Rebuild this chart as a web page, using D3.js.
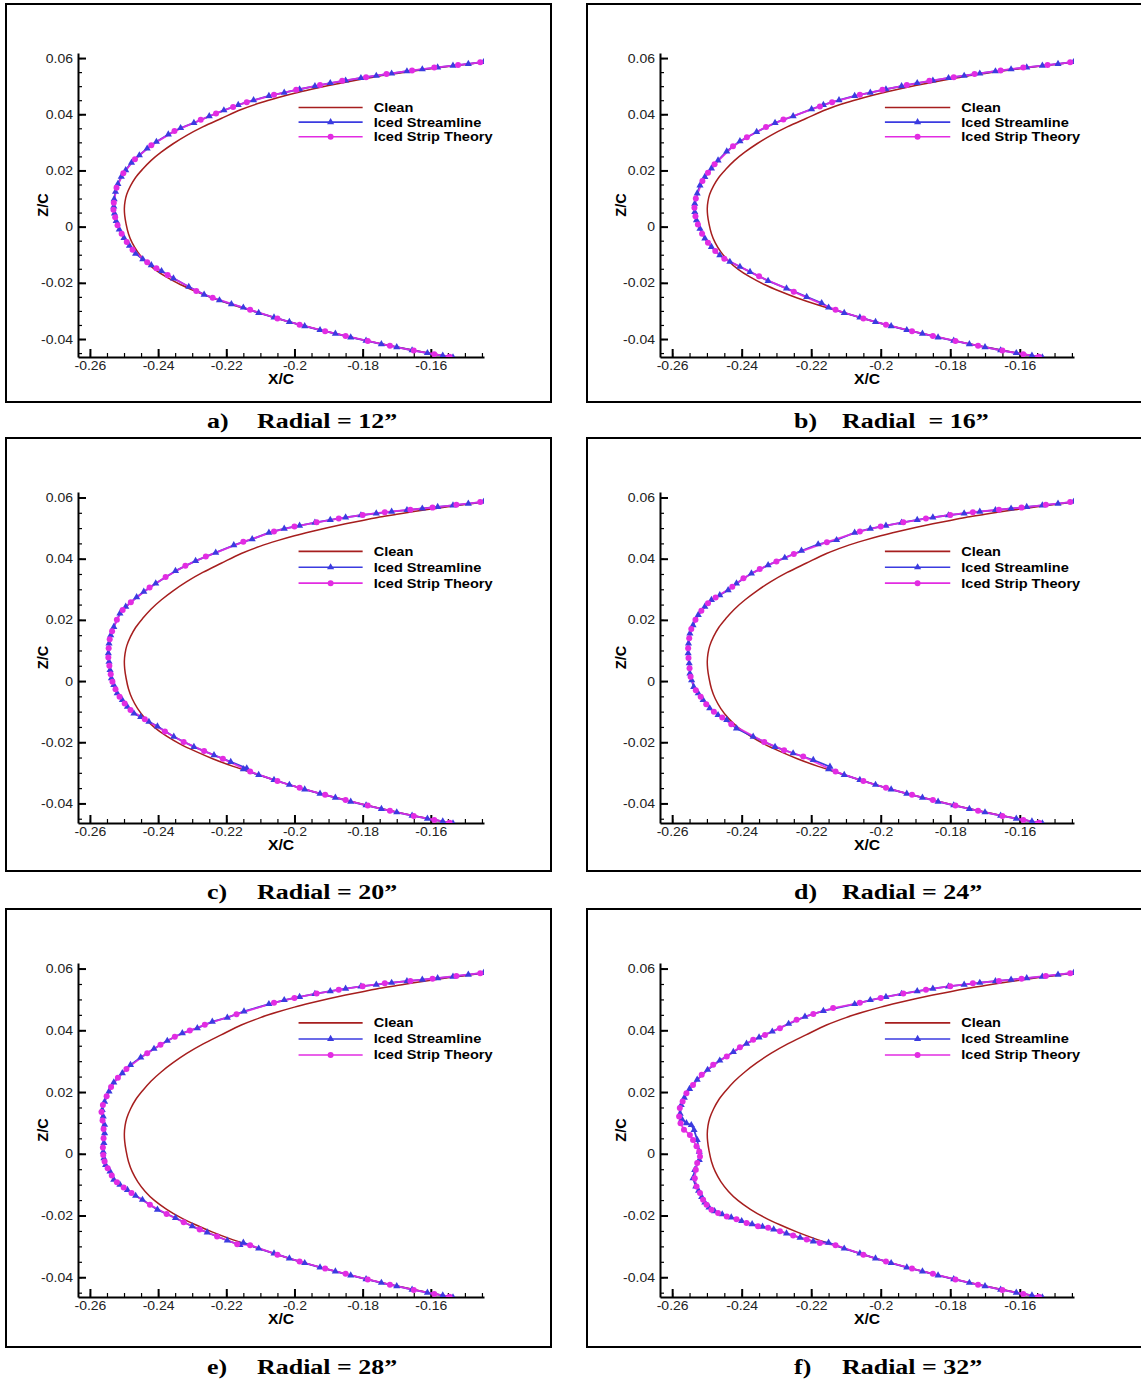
<!DOCTYPE html>
<html><head><meta charset="utf-8">
<script src="https://cdn.jsdelivr.net/npm/d3@7"></script>
<style>body{margin:0;background:#fff}svg{display:block}</style>
</head><body>
<script>
// ---------------- DATA ----------------
const xTicks = [-0.26,-0.24,-0.22,-0.2,-0.18,-0.16];
const xTickLabels = ["-0.26","-0.24","-0.22","-0.2","-0.18","-0.16"];
const zTicks = [-0.04,-0.02,0,0.02,0.04,0.06];
const zTickLabels = ["-0.04","-0.02","0","0.02","0.04","0.06"];
const seriesNames = ["Clean","Iced Streamline","Iced Strip Theory"];
const panelLetters = ["a)","b)","c)","d)","e)","f)"];
const radialLabels = ["Radial = 12\u201D","Radial  = 16\u201D","Radial = 20\u201D","Radial = 24\u201D","Radial = 28\u201D","Radial = 32\u201D"];

const clean = [[-0.1443,0.0586],[-0.1500,0.0577],[-0.1550,0.0570],[-0.1600,0.0562],[-0.1650,0.0554],[-0.1700,0.0545],[-0.1750,0.0536],[-0.1800,0.0525],[-0.1850,0.0514],[-0.1900,0.0502],[-0.1950,0.0489],[-0.2000,0.0475],[-0.2050,0.0459],[-0.2100,0.0441],[-0.2156,0.0417],[-0.2215,0.0385],[-0.2269,0.0355],[-0.2316,0.0325],[-0.2356,0.0295],[-0.2391,0.0265],[-0.2421,0.0235],[-0.2445,0.0205],[-0.2466,0.0175],[-0.2481,0.0145],[-0.2492,0.0115],[-0.2497,0.0090],[-0.2499,0.0065],[-0.2498,0.0040],[-0.2494,0.0010],[-0.2487,-0.0025],[-0.2476,-0.0058],[-0.2460,-0.0090],[-0.2438,-0.0122],[-0.2410,-0.0152],[-0.2375,-0.0180],[-0.2335,-0.0206],[-0.2290,-0.0230],[-0.2240,-0.0254],[-0.2180,-0.0279],[-0.2117,-0.0302],[-0.2050,-0.0327],[-0.2000,-0.0344],[-0.1950,-0.0360],[-0.1900,-0.0375],[-0.1850,-0.0389],[-0.1800,-0.0403],[-0.1750,-0.0416],[-0.1700,-0.0428],[-0.1650,-0.0440],[-0.1600,-0.0451],[-0.1550,-0.0462],[-0.1535,-0.0465]];

// shared downstream parts of the iced contours
const streamUpperTailAB = [[-0.1445,0.0586],[-0.1490,0.0579],[-0.1535,0.0573],[-0.1580,0.0567],[-0.1625,0.0560],[-0.1670,0.0553],[-0.1715,0.0545],[-0.1760,0.0537],[-0.1805,0.0529],[-0.1850,0.0520],[-0.1895,0.0511],[-0.1940,0.0500],[-0.1985,0.0489],[-0.2030,0.0477],[-0.2075,0.0465],[-0.2120,0.0450],[-0.2165,0.0433]];
const stripUpperTailAB = [[-0.1455,0.0585],[-0.1520,0.0575],[-0.1590,0.0566],[-0.1655,0.0556],[-0.1730,0.0543],[-0.1790,0.0532],[-0.1860,0.0519],[-0.1925,0.0504],[-0.1995,0.0487],[-0.2060,0.0469],[-0.2140,0.0443]];
const streamUpperTailCF = [[-0.1445,0.0586],[-0.1490,0.0580],[-0.1535,0.0574],[-0.1580,0.0569],[-0.1625,0.0564],[-0.1670,0.0559],[-0.1715,0.0554],[-0.1760,0.0548],[-0.1805,0.0542],[-0.1850,0.0535],[-0.1895,0.0527],[-0.1940,0.0518],[-0.1985,0.0508],[-0.2030,0.0498],[-0.2075,0.0485]];
const stripUpperTailCF = [[-0.1455,0.0585],[-0.1525,0.0576],[-0.1595,0.0567],[-0.1660,0.0560],[-0.1735,0.0552],[-0.1800,0.0543],[-0.1870,0.0531],[-0.1935,0.0519],[-0.2000,0.0505],[-0.2060,0.0489]];
const streamLowerTail = [[-0.2150,-0.0288],[-0.2105,-0.0307],[-0.2060,-0.0323],[-0.2015,-0.0339],[-0.1970,-0.0354],[-0.1925,-0.0368],[-0.1880,-0.0381],[-0.1835,-0.0394],[-0.1790,-0.0406],[-0.1745,-0.0418],[-0.1700,-0.0429],[-0.1655,-0.0440],[-0.1610,-0.0450],[-0.1565,-0.0459],[-0.1535,-0.0465]];
const stripLowerTail = [[-0.2130,-0.0296],[-0.2050,-0.0327],[-0.1985,-0.0349],[-0.1910,-0.0372],[-0.1850,-0.0389],[-0.1785,-0.0407],[-0.1720,-0.0424],[-0.1650,-0.0441],[-0.1590,-0.0454],[-0.1545,-0.0463]];

// leading-edge parts, per radial station
const aStreamLE = [[-0.2207,0.0414],[-0.2250,0.0393],[-0.2295,0.0369],[-0.2334,0.0351],[-0.2370,0.0328],[-0.2405,0.0302],[-0.2432,0.0278],[-0.2455,0.0254],[-0.2478,0.0228],[-0.2495,0.0201],[-0.2508,0.0178],[-0.2518,0.0152],[-0.2525,0.0124],[-0.2529,0.0098],[-0.2530,0.0072],[-0.2528,0.0047],[-0.2523,0.0020],[-0.2514,-0.0010],[-0.2500,-0.0040],[-0.2484,-0.0068],[-0.2466,-0.0096],[-0.2445,-0.0116],[-0.2420,-0.0137],[-0.2390,-0.0158],[-0.2355,-0.0184],[-0.2310,-0.0214],[-0.2265,-0.0242],[-0.2220,-0.0262],[-0.2185,-0.0276]];
const aStripLE = [[-0.2180,0.0426],[-0.2230,0.0403],[-0.2275,0.0380],[-0.2352,0.0340],[-0.2420,0.0290],[-0.2468,0.0240],[-0.2502,0.0190],[-0.2522,0.0138],[-0.2530,0.0085],[-0.2531,0.0060],[-0.2526,0.0033],[-0.2519,0.0005],[-0.2507,-0.0025],[-0.2492,-0.0055],[-0.2475,-0.0082],[-0.2432,-0.0127],[-0.2405,-0.0148],[-0.2372,-0.0172],[-0.2288,-0.0229],[-0.2240,-0.0253]];
const bStreamLE = [[-0.2199,0.0418],[-0.2252,0.0393],[-0.2304,0.0369],[-0.2357,0.0337],[-0.2405,0.0304],[-0.2443,0.0268],[-0.2468,0.0236],[-0.2487,0.0207],[-0.2506,0.0177],[-0.2520,0.0147],[-0.2528,0.0118],[-0.2535,0.0082],[-0.2535,0.0052],[-0.2530,0.0023],[-0.2520,-0.0007],[-0.2506,-0.0042],[-0.2487,-0.0072],[-0.2463,-0.0102],[-0.2434,-0.0125],[-0.2405,-0.0143],[-0.2376,-0.0161],[-0.2324,-0.0193],[-0.2271,-0.0220],[-0.2213,-0.0250],[-0.2170,-0.0272]];
const bStripLE = [[-0.2175,0.0428],[-0.2280,0.0381],[-0.2330,0.0355],[-0.2385,0.0318],[-0.2425,0.0286],[-0.2478,0.0222],[-0.2497,0.0192],[-0.2513,0.0162],[-0.2532,0.0100],[-0.2536,0.0067],[-0.2533,0.0037],[-0.2526,0.0008],[-0.2514,-0.0025],[-0.2497,-0.0057],[-0.2476,-0.0087],[-0.2450,-0.0114],[-0.2350,-0.0177],[-0.2250,-0.0232]];
const cStreamLE = [[-0.2124,0.0464],[-0.2178,0.0444],[-0.2231,0.0420],[-0.2290,0.0393],[-0.2349,0.0360],[-0.2407,0.0319],[-0.2442,0.0292],[-0.2463,0.0274],[-0.2495,0.0243],[-0.2512,0.0221],[-0.2530,0.0177],[-0.2539,0.0150],[-0.2544,0.0123],[-0.2546,0.0091],[-0.2544,0.0063],[-0.2541,0.0036],[-0.2537,0.0009],[-0.2530,-0.0013],[-0.2520,-0.0040],[-0.2505,-0.0062],[-0.2490,-0.0084],[-0.2471,-0.0106],[-0.2451,-0.0117],[-0.2427,-0.0133],[-0.2402,-0.0148],[-0.2354,-0.0182],[-0.2295,-0.0215],[-0.2236,-0.0242],[-0.2187,-0.0264],[-0.2140,-0.0285]];
const cStripLE = [[-0.2150,0.0455],[-0.2260,0.0407],[-0.2320,0.0377],[-0.2378,0.0340],[-0.2425,0.0306],[-0.2480,0.0258],[-0.2504,0.0232],[-0.2521,0.0200],[-0.2535,0.0163],[-0.2542,0.0137],[-0.2545,0.0107],[-0.2546,0.0077],[-0.2543,0.0050],[-0.2539,0.0022],[-0.2534,-0.0002],[-0.2525,-0.0027],[-0.2513,-0.0051],[-0.2498,-0.0073],[-0.2481,-0.0095],[-0.2439,-0.0125],[-0.2380,-0.0165],[-0.2325,-0.0199],[-0.2265,-0.0229],[-0.2210,-0.0254]];
const dStreamLE = [[-0.2127,0.0461],[-0.2180,0.0447],[-0.2228,0.0426],[-0.2276,0.0403],[-0.2324,0.0379],[-0.2372,0.0352],[-0.2415,0.0319],[-0.2439,0.0297],[-0.2463,0.0281],[-0.2487,0.0265],[-0.2506,0.0243],[-0.2525,0.0216],[-0.2540,0.0183],[-0.2549,0.0156],[-0.2553,0.0123],[-0.2554,0.0091],[-0.2551,0.0058],[-0.2549,0.0025],[-0.2544,0.0003],[-0.2538,-0.0019],[-0.2525,-0.0040],[-0.2511,-0.0062],[-0.2492,-0.0089],[-0.2468,-0.0111],[-0.2443,-0.0127],[-0.2415,-0.0155],[-0.2367,-0.0182],[-0.2304,-0.0215],[-0.2252,-0.0236],[-0.2194,-0.0258],[-0.2146,-0.0280]];
const dStripLE = [[-0.2155,0.0454],[-0.2250,0.0415],[-0.2300,0.0391],[-0.2348,0.0366],[-0.2395,0.0336],[-0.2427,0.0308],[-0.2475,0.0273],[-0.2497,0.0254],[-0.2516,0.0230],[-0.2533,0.0200],[-0.2545,0.0170],[-0.2551,0.0140],[-0.2554,0.0107],[-0.2553,0.0075],[-0.2550,0.0042],[-0.2547,0.0014],[-0.2532,-0.0030],[-0.2518,-0.0051],[-0.2502,-0.0076],[-0.2480,-0.0100],[-0.2456,-0.0119],[-0.2430,-0.0141],[-0.2335,-0.0199],[-0.2278,-0.0226],[-0.2223,-0.0247]];
const eStreamLE = [[-0.2148,0.0461],[-0.2197,0.0441],[-0.2241,0.0428],[-0.2285,0.0407],[-0.2329,0.0391],[-0.2373,0.0366],[-0.2412,0.0340],[-0.2451,0.0312],[-0.2481,0.0288],[-0.2505,0.0261],[-0.2530,0.0231],[-0.2544,0.0202],[-0.2557,0.0169],[-0.2564,0.0142],[-0.2561,0.0121],[-0.2557,0.0094],[-0.2557,0.0067],[-0.2559,0.0035],[-0.2561,0.0007],[-0.2559,-0.0014],[-0.2554,-0.0036],[-0.2541,-0.0057],[-0.2530,-0.0084],[-0.2512,-0.0100],[-0.2490,-0.0117],[-0.2466,-0.0136],[-0.2446,-0.0149],[-0.2402,-0.0181],[-0.2349,-0.0208],[-0.2300,-0.0235],[-0.2256,-0.0255],[-0.2197,-0.0281],[-0.2160,-0.0295]];
const eStripLE = [[-0.2170,0.0452],[-0.2263,0.0418],[-0.2307,0.0399],[-0.2351,0.0379],[-0.2393,0.0353],[-0.2432,0.0326],[-0.2493,0.0275],[-0.2518,0.0246],[-0.2538,0.0216],[-0.2551,0.0186],[-0.2562,0.0158],[-0.2566,0.0135],[-0.2563,0.0108],[-0.2560,0.0080],[-0.2560,0.0050],[-0.2562,0.0020],[-0.2561,-0.0004],[-0.2557,-0.0025],[-0.2548,-0.0047],[-0.2536,-0.0070],[-0.2521,-0.0092],[-0.2501,-0.0109],[-0.2478,-0.0127],[-0.2424,-0.0165],[-0.2375,-0.0195],[-0.2325,-0.0222],[-0.2278,-0.0245],[-0.2227,-0.0268],[-0.2168,-0.0293]];
const fStreamLE = [[-0.2165,0.0463],[-0.2218,0.0444],[-0.2265,0.0421],[-0.2312,0.0396],[-0.2350,0.0377],[-0.2386,0.0357],[-0.2424,0.0330],[-0.2463,0.0302],[-0.2498,0.0272],[-0.2528,0.0240],[-0.2550,0.0210],[-0.2565,0.0182],[-0.2574,0.0158],[-0.2577,0.0130],[-0.2572,0.0112],[-0.2559,0.0099],[-0.2545,0.0093],[-0.2537,0.0077],[-0.2528,0.0045],[-0.2522,0.0007],[-0.2522,-0.0020],[-0.2535,-0.0052],[-0.2540,-0.0079],[-0.2532,-0.0106],[-0.2524,-0.0120],[-0.2515,-0.0140],[-0.2506,-0.0158],[-0.2494,-0.0174],[-0.2478,-0.0186],[-0.2456,-0.0196],[-0.2430,-0.0206],[-0.2400,-0.0218],[-0.2370,-0.0228],[-0.2340,-0.0236],[-0.2308,-0.0245],[-0.2271,-0.0258],[-0.2232,-0.0272],[-0.2194,-0.0284]];
const fStripLE = [[-0.2137,0.0472],[-0.2194,0.0453],[-0.2242,0.0434],[-0.2290,0.0407],[-0.2333,0.0385],[-0.2367,0.0369],[-0.2405,0.0345],[-0.2443,0.0315],[-0.2482,0.0288],[-0.2515,0.0256],[-0.2540,0.0223],[-0.2559,0.0196],[-0.2570,0.0169],[-0.2578,0.0148],[-0.2580,0.0121],[-0.2576,0.0099],[-0.2566,0.0078],[-0.2549,0.0061],[-0.2540,0.0045],[-0.2530,0.0024],[-0.2522,0.0007],[-0.2520,-0.0009],[-0.2528,-0.0030],[-0.2532,-0.0052],[-0.2535,-0.0079],[-0.2530,-0.0106],[-0.2520,-0.0127],[-0.2511,-0.0149],[-0.2501,-0.0165],[-0.2487,-0.0181],[-0.2468,-0.0192],[-0.2443,-0.0203],[-0.2415,-0.0212],[-0.2386,-0.0224],[-0.2353,-0.0235],[-0.2324,-0.0240],[-0.2290,-0.0251],[-0.2252,-0.0265],[-0.2213,-0.0278],[-0.2175,-0.0289]];

const streamByPanel = [
  [...streamUpperTailAB, ...aStreamLE, ...streamLowerTail],
  [...streamUpperTailAB, ...bStreamLE, ...streamLowerTail],
  [...streamUpperTailCF, ...cStreamLE, ...streamLowerTail],
  [...streamUpperTailCF, ...dStreamLE, ...streamLowerTail],
  [...streamUpperTailCF, ...eStreamLE, ...streamLowerTail],
  [...streamUpperTailCF, ...fStreamLE, ...streamLowerTail]];
const stripByPanel = [
  [...stripUpperTailAB, ...aStripLE, ...stripLowerTail],
  [...stripUpperTailAB, ...bStripLE, ...stripLowerTail],
  [...stripUpperTailCF, ...cStripLE, ...stripLowerTail],
  [...stripUpperTailCF, ...dStripLE, ...stripLowerTail],
  [...stripUpperTailCF, ...eStripLE, ...stripLowerTail],
  [...stripUpperTailCF, ...fStripLE, ...stripLowerTail]];

// ---------------- LAYOUT / STYLE ----------------
const W = 1141, H = 1381;
const xDomain = [-0.2635, -0.1444], zDomain = [-0.0464, 0.0618];
const cols = [
  {bx:6, bw:545, x0:78, x1:484, zcOff:30, capL:207, capR:257},
  {bx:587, bw:600, x0:660, x1:1074, zcOff:34, capL:794, capR:842}];
const rows = [
  {by:4, bh:398, y0:357, y1:53, cap:428},
  {by:438, bh:433, y0:823, y1:492, cap:899},
  {by:909, bh:438, y0:1297, y1:963, cap:1374}];
const colors = {clean:"#a61e1e", stream:"#3b3be0", strip:"#e22ce2"};
const sx = 1.12;
const legendZ = [0.0424, 0.0372, 0.0320];
const legendX = [-0.1988, -0.1800];

const svg = d3.select("body").append("svg").attr("width", W).attr("height", H)
  .style("font-family", "'Liberation Sans', Arial, sans-serif");
svg.append("rect").attr("width", W).attr("height", H).attr("fill", "#fff");

function stretchText(g, x, y, str, font, anchor, k) {
  return g.append("text")
    .attr("transform", `translate(${x},${y}) scale(${k},1)`)
    .attr("text-anchor", anchor || "start")
    .style("font", font).style("white-space", "pre")
    .attr("fill", "#000").text(str);
}

const xMinor = d3.range(-52, -28).map(k => k * 0.005);
const zMinor = d3.range(-9, 13).map(k => k * 0.005);
const triSize = 22, dotR = 3;

for (let p = 0; p < 6; p++) {
  const col = cols[p % 2], row = rows[Math.floor(p / 2)];
  const g = svg.append("g");
  g.append("rect").attr("x", col.bx).attr("y", row.by).attr("width", col.bw).attr("height", row.bh)
    .attr("fill", "none").attr("stroke", "#000").attr("stroke-width", 2);

  const x = d3.scaleLinear().domain(xDomain).range([col.x0, col.x1]);
  const z = d3.scaleLinear().domain(zDomain).range([row.y0, row.y1]);

  // minor ticks
  g.append("g").attr("transform", `translate(0,${row.y0})`)
    .call(d3.axisBottom(x).tickValues(xMinor).tickFormat("").tickSizeInner(-4).tickSizeOuter(0))
    .call(s => s.select(".domain").remove())
    .selectAll("line").attr("stroke", "#000").attr("stroke-width", 1.2);
  g.append("g").attr("transform", `translate(${col.x0},0)`)
    .call(d3.axisLeft(z).tickValues(zMinor).tickFormat("").tickSizeInner(-4).tickSizeOuter(0))
    .call(s => s.select(".domain").remove())
    .selectAll("line").attr("stroke", "#000").attr("stroke-width", 1.2);

  // major axes
  const gx = g.append("g").attr("transform", `translate(0,${row.y0})`)
    .call(d3.axisBottom(x).tickValues(xTicks).tickFormat((d, i) => xTickLabels[i])
      .tickSizeInner(-8).tickSizeOuter(0).tickPadding(4));
  gx.select(".domain").attr("stroke", "#000").attr("stroke-width", 2);
  gx.selectAll(".tick line").attr("stroke", "#000").attr("stroke-width", 2);
  gx.selectAll(".tick text").attr("fill", "#222").style("font-size", "12.5px")
    .style("font-family", "'Liberation Sans', Arial, sans-serif")
    .attr("transform", `scale(${sx},1)`);

  const gz = g.append("g").attr("transform", `translate(${col.x0},0)`)
    .call(d3.axisLeft(z).tickValues(zTicks).tickFormat((d, i) => zTickLabels[i])
      .tickSizeInner(-8).tickSizeOuter(0).tickPadding(5 / sx));
  gz.select(".domain").attr("stroke", "#000").attr("stroke-width", 2);
  gz.selectAll(".tick line").attr("stroke", "#000").attr("stroke-width", 2);
  gz.selectAll(".tick text").attr("fill", "#222").style("font-size", "12.5px")
    .style("font-family", "'Liberation Sans', Arial, sans-serif")
    .attr("transform", `scale(${sx},1)`);

  // axis titles
  stretchText(g, (col.x0 + col.x1) / 2, row.y0 + 27, "X/C", "bold 14px 'Liberation Sans', Arial, sans-serif", "middle", sx);
  g.append("text").attr("transform", `translate(${col.x0 - col.zcOff},${z(0.0077)}) rotate(-90)`)
    .attr("text-anchor", "middle").style("font", "bold 14.5px 'Liberation Sans', Arial, sans-serif")
    .text("Z/C");

  // clip to axes box
  const cid = "clip" + p;
  g.append("clipPath").attr("id", cid).append("rect")
    .attr("x", col.x0).attr("y", row.y1).attr("width", col.x1 - col.x0).attr("height", row.y0 - row.y1);
  const plot = g.append("g").attr("clip-path", `url(#${cid})`);

  const lineSmooth = d3.line().x(d => x(d[0])).y(d => z(d[1])).curve(d3.curveCatmullRom.alpha(0.5));
  const lineLin = d3.line().x(d => x(d[0])).y(d => z(d[1]));

  plot.append("path").attr("d", lineSmooth(clean)).attr("fill", "none")
    .attr("stroke", colors.clean).attr("stroke-width", 1.5);
  plot.append("path").attr("d", lineLin(streamByPanel[p])).attr("fill", "none")
    .attr("stroke", colors.stream).attr("stroke-width", 1.8).attr("stroke-linejoin", "round");
  plot.append("path").attr("d", lineLin(stripByPanel[p])).attr("fill", "none")
    .attr("stroke", colors.strip).attr("stroke-width", 1.8).attr("stroke-linejoin", "round").attr("opacity", 0.9);

  const tri = d3.symbol().type(d3.symbolTriangle).size(triSize);
  plot.selectAll(".mk-st").data(streamByPanel[p]).join("path").attr("class", "mk-st")
    .attr("d", tri).attr("transform", d => `translate(${x(d[0])},${z(d[1])})`)
    .attr("fill", colors.stream);
  plot.selectAll(".mk-sp").data(stripByPanel[p]).join("circle").attr("class", "mk-sp")
    .attr("cx", d => x(d[0])).attr("cy", d => z(d[1])).attr("r", dotR)
    .attr("fill", colors.strip);

  // legend
  const lg = g.append("g");
  const lcol = [colors.clean, colors.stream, colors.strip];
  seriesNames.forEach((name, i) => {
    const ly = z(legendZ[i]);
    lg.append("line").attr("x1", x(legendX[0])).attr("x2", x(legendX[1])).attr("y1", ly).attr("y2", ly)
      .attr("stroke", lcol[i]).attr("stroke-width", 1.6);
    const mx = (x(legendX[0]) + x(legendX[1])) / 2;
    if (i === 1) lg.append("path").attr("d", d3.symbol().type(d3.symbolTriangle).size(triSize)())
      .attr("transform", `translate(${mx},${ly})`).attr("fill", colors.stream);
    if (i === 2) lg.append("circle").attr("cx", mx).attr("cy", ly).attr("r", dotR).attr("fill", colors.strip);
    stretchText(lg, x(legendX[1]) + 11, ly + 4.5, name, "bold 13px 'Liberation Sans', Arial, sans-serif", "start", sx);
  });

  // caption
  const capFont = "bold 22px 'Liberation Serif', 'Times New Roman', serif";
  stretchText(svg, col.capL, row.cap, panelLetters[p], capFont, "start", 1.18);
  stretchText(svg, col.capR, row.cap, radialLabels[p], capFont, "start", 1.18);
}
</script>
</body></html>
